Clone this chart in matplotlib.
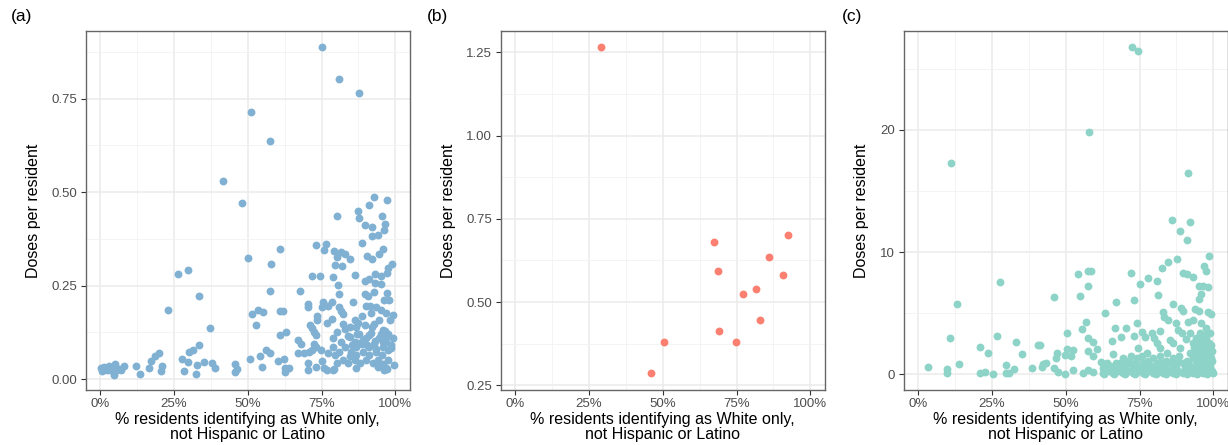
import numpy as np
import matplotlib
matplotlib.use("Agg")
import matplotlib.pyplot as plt
from matplotlib.ticker import MultipleLocator

plt.rcParams['font.family'] = ['Liberation Sans', 'DejaVu Sans']

# panel (a): % white only vs doses per resident
white_a = [75.2, 81.1, 87.7, 51.2, 57.5, 41.7, 48.0, 92.8, 97.1, 91.0, 87.5, 80.3, 95.4, 87.8,
           96.6, 89.6, 92.0, 96.3, 92.0, 94.1, 88.7, 73.2, 76.6, 61.1, 95.9, 75.9, 79.2, 81.5,
           82.9, 84.7, 80.3, 90.3, 92.0, 94.4, 50.1, 29.7, 26.2, 57.8, 79.6, 82.0, 98.9, 97.7,
           71.8, 74.6, 78.9, 86.5, 93.2, 97.3, 95.0, 91.0, 89.9, 93.1, 95.3, 80.6, 33.6, 57.7,
           67.6, 92.9, 97.2, 80.9, 89.9, 90.7, 22.9, 75.5, 78.5, 85.7, 96.3, 98.0, 70.4, 70.4,
           77.3, 75.0, 81.0, 90.1, 91.4, 93.5, 81.5, 53.6, 55.0, 60.8, 51.5, 62.0, 91.8, 95.2,
           96.8, 99.1, 73.5, 82.4, 88.8, 86.2, 78.4, 73.4, 94.6, 98.2, 52.9, 82.2, 71.2, 89.6,
           92.9, 77.0, 82.8, 71.8, 37.3, 86.7, 95.7, 80.3, 72.6, 62.8, 87.8, 91.8, 97.4, 73.3,
           60.8, 84.5, 99.1, 78.8, 90.1, 94.6, 67.0, 81.7, 86.2, 96.8, 68.1, 72.6, 88.7, 92.9,
           33.6, 73.2, 78.8, 82.9, 86.7, 91.2, 95.7, 98.5, 31.3, 30.1, 56.1, 71.7, 74.9, 81.1,
           85.0, 88.9, 93.5, 97.4, 19.8, 57.7, 66.9, 68.9, 70.8, 77.1, 79.7, 84.5, 86.7, 91.2,
           95.5, 18.5, 54.1, 62.2, 27.8, 50.7, 82.2, 86.5, 90.1, 94.0, 97.4, 17.3, 29.7, 60.3,
           35.1, 75.2, 70.4, 80.2, 83.9, 88.0, 92.3, 95.7, 37.8, 45.8, 32.8, 99.7, 8.1, 12.2,
           20.8, 1.4, 5.0, 2.8, 16.6, 39.0, 54.7, 62.6, 64.0, 73.2, 75.9, 79.1, 86.7, 94.0,
           96.8, 0.2, 2.3, 3.9, 5.6, 7.0, 0.6, 70.4, 46.2, 45.8, 28.5, 20.6, 76.8, 78.8, 96.2,
           62.5, 4.8, 13.5, 32.4, 97.1, 84.0, 87.0, 89.0, 91.0, 93.0, 95.0, 97.0, 85.5, 88.0,
           90.5, 93.5, 96.0, 98.5, 84.5, 87.5, 92.0, 96.5, 1.0, 3.2, 4.4, 6.2]
dose_a = [0.889, 0.803, 0.764, 0.715, 0.636, 0.531, 0.470, 0.487, 0.479, 0.466, 0.449, 0.436,
          0.437, 0.432, 0.416, 0.411, 0.407, 0.399, 0.383, 0.385, 0.365, 0.359, 0.361, 0.347,
          0.348, 0.345, 0.343, 0.341, 0.334, 0.321, 0.327, 0.329, 0.320, 0.334, 0.323, 0.293,
          0.280, 0.309, 0.304, 0.303, 0.309, 0.298, 0.277, 0.276, 0.273, 0.278, 0.282, 0.283,
          0.277, 0.268, 0.262, 0.258, 0.255, 0.251, 0.223, 0.235, 0.235, 0.233, 0.231, 0.227,
          0.227, 0.222, 0.186, 0.207, 0.207, 0.207, 0.211, 0.211, 0.201, 0.194, 0.195, 0.192,
          0.194, 0.196, 0.195, 0.194, 0.181, 0.185, 0.180, 0.181, 0.173, 0.183, 0.176, 0.185,
          0.177, 0.171, 0.169, 0.174, 0.169, 0.158, 0.160, 0.158, 0.158, 0.158, 0.146, 0.147,
          0.144, 0.144, 0.147, 0.149, 0.134, 0.136, 0.137, 0.140, 0.131, 0.127, 0.127, 0.125,
          0.122, 0.124, 0.122, 0.118, 0.117, 0.113, 0.111, 0.109, 0.109, 0.109, 0.104, 0.100,
          0.100, 0.100, 0.095, 0.095, 0.095, 0.095, 0.090, 0.087, 0.087, 0.087, 0.087, 0.087,
          0.087, 0.082, 0.078, 0.073, 0.078, 0.078, 0.078, 0.073, 0.073, 0.073, 0.073, 0.078,
          0.069, 0.070, 0.070, 0.071, 0.073, 0.069, 0.064, 0.062, 0.064, 0.064, 0.064, 0.062,
          0.062, 0.054, 0.054, 0.053, 0.051, 0.051, 0.051, 0.051, 0.051, 0.049, 0.047, 0.048,
          0.046, 0.048, 0.042, 0.044, 0.042, 0.042, 0.042, 0.040, 0.042, 0.040, 0.037, 0.037,
          0.035, 0.035, 0.035, 0.033, 0.040, 0.035, 0.029, 0.030, 0.033, 0.029, 0.029, 0.033,
          0.029, 0.026, 0.029, 0.033, 0.029, 0.029, 0.024, 0.029, 0.024, 0.024, 0.022, 0.024,
          0.026, 0.020, 0.023, 0.023, 0.024, 0.024, 0.024, 0.020, 0.012, 0.013, 0.013, 0.026,
          0.115, 0.120, 0.105, 0.118, 0.102, 0.120, 0.112, 0.092, 0.098, 0.090, 0.080, 0.100,
          0.092, 0.140, 0.150, 0.140, 0.130, 0.030, 0.025, 0.032, 0.028]

# panel (b)
white_b = [28.9, 67.5, 68.6, 92.3, 85.9, 90.6, 81.7, 77.1, 83.1, 69.2, 74.9, 50.4, 46.1]
dose_b = [1.266, 0.681, 0.593, 0.701, 0.634, 0.580, 0.540, 0.525, 0.445, 0.413, 0.380, 0.379, 0.287]

# panel (c)
white_c = [72.4, 74.4, 58.0, 11.0, 91.5, 85.9, 92.1, 88.7, 91.1, 98.5, 87.7, 84.6, 82.5, 96.8,
           97.7, 58.4, 57.4, 54.2, 72.2, 89.6, 91.0, 93.2, 78.0, 81.0, 27.6, 75.3, 57.7, 95.1,
           96.6, 98.1, 95.7, 54.7, 81.2, 45.9, 95.0, 73.0, 66.9, 86.3, 13.2, 89.0, 89.9, 93.8,
           95.1, 82.9, 63.4, 98.1, 99.4, 83.3, 84.6, 87.5, 91.3, 93.2, 57.0, 74.0, 95.7, 70.3,
           66.8, 97.7, 55.5, 75.7, 50.3, 82.0, 87.9, 79.2, 89.3, 92.1, 95.5, 98.9, 26.6, 68.7,
           73.2, 76.8, 10.7, 57.4, 80.0, 85.3, 90.9, 94.3, 97.1, 65.6, 33.0, 59.1, 80.8, 86.4,
           93.2, 97.7, 40.7, 41.4, 20.9, 74.6, 82.0, 88.8, 96.6, 50.5, 52.5, 60.5, 57.6, 23.6,
           35.3, 46.9, 77.5, 84.2, 92.1, 98.3, 49.6, 51.8, 59.4, 65.9, 46.7, 69.5, 74.0, 79.7,
           86.4, 93.2, 99.4, 13.7, 42.4, 43.3, 62.1, 67.2, 71.8, 76.3, 80.8, 85.3, 89.8, 95.5,
           98.3, 29.7, 3.2, 42.1, 9.8, 32.3, 38.6, 46.0, 63.8, 68.4, 72.9, 77.4, 81.9, 86.4,
           90.9, 95.5, 98.9, 9.9, 20.9, 22.6, 25.4, 29.7, 30.8, 47.5, 49.7, 52.5, 55.9, 57.4,
           59.3, 62.7, 66.1, 69.5, 72.9, 76.3, 79.7, 83.1, 86.4, 89.8, 93.2, 96.6, 99.8,
           64.5, 68.0, 71.0, 74.5, 78.0, 81.5, 85.0, 88.0, 91.5, 94.0, 97.0, 99.5,
           65.0, 70.0, 75.0, 79.0, 83.0, 87.5, 92.0, 96.5, 99.0,
           70.5, 78.0, 84.0, 88.0, 91.0, 94.0, 97.0, 99.7,
           95.0, 97.0, 98.5, 99.5, 96.0, 98.0, 94.5, 96.8, 99.2, 97.5, 95.8, 98.8,
           63.0, 66.5, 70.0, 73.5, 77.0, 80.5, 84.0, 87.5, 91.0, 94.5, 98.0,
           62.5, 66.0, 69.5, 73.0, 76.5, 80.0, 83.5, 87.0, 90.5, 94.0, 97.5,
           64.0, 68.5, 73.5, 78.0, 82.5, 87.0, 91.5, 95.0, 99.0,
           72.0, 76.0, 82.0, 88.5, 94.5, 97.5,
           93.5, 94.8, 96.2, 97.8, 99.0, 95.5, 98.7, 93.8]
dose_c = [26.76, 26.43, 19.81, 17.30, 16.49, 12.59, 12.43, 11.72, 10.95, 9.67, 9.40, 9.16, 8.66,
          8.88, 8.45, 8.47, 8.42, 8.20, 8.31, 8.31, 8.20, 7.96, 7.87, 7.66, 7.52, 7.36, 7.19,
          7.25, 7.25, 7.14, 6.54, 6.43, 6.46, 6.35, 6.13, 6.05, 5.89, 5.75, 5.78, 5.45, 5.18,
          5.34, 5.18, 5.10, 5.04, 5.07, 4.90, 4.69, 4.44, 4.22, 4.31, 4.44, 4.31, 4.17, 4.22,
          3.76, 3.76, 3.76, 3.71, 3.49, 3.41, 3.54, 3.62, 3.35, 3.35, 3.35, 3.35, 3.35, 3.13,
          3.08, 3.13, 3.08, 3.00, 2.94, 2.94, 2.81, 2.86, 2.94, 2.86, 2.75, 2.62, 2.67, 2.53,
          2.53, 2.53, 2.53, 2.40, 2.37, 2.23, 2.13, 2.13, 2.13, 2.13, 2.07, 1.99, 2.10, 1.91,
          1.77, 1.69, 1.74, 1.72, 1.72, 1.72, 1.72, 1.58, 1.50, 1.50, 1.66, 1.36, 1.31, 1.31,
          1.31, 1.31, 1.31, 1.31, 0.84, 0.82, 0.95, 1.04, 0.95, 0.90, 0.90, 0.90, 0.90, 0.90,
          0.90, 0.90, 0.74, 0.63, 0.63, 0.46, 0.46, 0.49, 0.52, 0.49, 0.49, 0.49, 0.49, 0.49,
          0.49, 0.49, 0.49, 0.49, 0.14, 0.14, 0.19, 0.03, 0.08, 0.14, 0.22, 0.05, 0.33, 0.14,
          0.35, 0.22, 0.14, 0.14, 0.14, 0.14, 0.14, 0.14, 0.14, 0.14, 0.14, 0.14, 0.14, 0.14,
          0.30, 0.30, 0.30, 0.30, 0.30, 0.30, 0.30, 0.30, 0.30, 0.30, 0.30, 0.30,
          0.70, 0.70, 0.70, 0.70, 0.70, 0.70, 0.70, 0.70, 0.70,
          1.10, 1.10, 1.10, 1.10, 1.10, 1.10, 1.10, 1.10,
          2.30, 2.00, 2.60, 1.90, 1.50, 1.20, 1.80, 2.80, 2.40, 3.00, 2.70, 1.60,
          0.05, 0.05, 0.05, 0.05, 0.05, 0.05, 0.05, 0.05, 0.05, 0.05, 0.05,
          0.55, 0.55, 0.55, 0.55, 0.55, 0.55, 0.55, 0.55, 0.55, 0.55, 0.55,
          0.95, 0.95, 0.95, 0.95, 0.95, 0.95, 0.95, 0.95, 0.95,
          1.50, 1.50, 1.50, 1.50, 1.50, 1.50,
          2.20, 2.90, 3.20, 3.30, 2.20, 1.10, 0.80, 0.60]

panels = [
    ("(a)", white_a, dose_a, "#80B1D3", (-0.029, 0.931), [0, 0.25, 0.5, 0.75],
     ["0.00", "0.25", "0.50", "0.75"], 0.125),
    ("(b)", white_b, dose_b, "#FB8072", (0.236, 1.314), [0.25, 0.5, 0.75, 1.0, 1.25],
     ["0.25", "0.50", "0.75", "1.00", "1.25"], 0.125),
    ("(c)", white_c, dose_c, "#8DD3C7", (-1.28, 28.07), [0, 10, 20],
     ["0", "10", "20"], 5),
]

W, H = 1228, 445
fig = plt.figure(figsize=(W / 100, H / 100), dpi=100)
lefts = [85.5, 500.5, 903.5]
tag_x = [22, 438, 852]
ylab_x = [-0.137, -0.138, -0.106]
x_ticks = [0, 0.25, 0.5, 0.75, 1.0]
x_labels = ["0%", "25%", "50%", "75%", "100%"]

for i, (tag, xs, ys, col, ylim, yt, ytl, yminor) in enumerate(panels):
    ax = fig.add_axes([lefts[i] / W, (H - 390) / H, 324.5 / W, 359 / H])
    ax.set_axisbelow(True)
    ax.scatter(np.array(xs) / 100, ys, s=32, color=col, linewidths=0, zorder=3)
    ax.set_xlim(-0.05, 1.05)
    ax.set_ylim(*ylim)
    ax.set_xticks(x_ticks)
    ax.set_xticklabels(x_labels)
    ax.set_yticks(yt)
    ax.set_yticklabels(ytl)
    ax.xaxis.set_minor_locator(MultipleLocator(0.125))
    ax.yaxis.set_minor_locator(MultipleLocator(yminor))
    ax.grid(which='major', color='#EBEBEB', linewidth=1.1)
    ax.grid(which='minor', color='#F2F2F2', linewidth=0.6)
    ax.tick_params(which='major', length=3.5, width=0.8, color='#333333',
                   labelcolor='#4D4D4D', labelsize=9.5, pad=2.5)
    ax.tick_params(which='minor', length=0)
    for sp in ax.spines.values():
        sp.set_color('#666666')
        sp.set_linewidth(1.0)
    ax.set_ylabel("Doses per resident", fontsize=11.5, color='black')
    ax.yaxis.set_label_coords(ylab_x[i], 0.5)
    ax.set_xlabel("% residents identifying as White only,\nnot Hispanic or Latino",
                  fontsize=11.5, color='black', linespacing=1.0)
    ax.xaxis.set_label_coords(0.5, -0.062)
    fig.text(tag_x[i] / W, 1 - 17 / H, tag, ha='center', va='center', fontsize=12.5)

fig.savefig("out.png", dpi=100)
